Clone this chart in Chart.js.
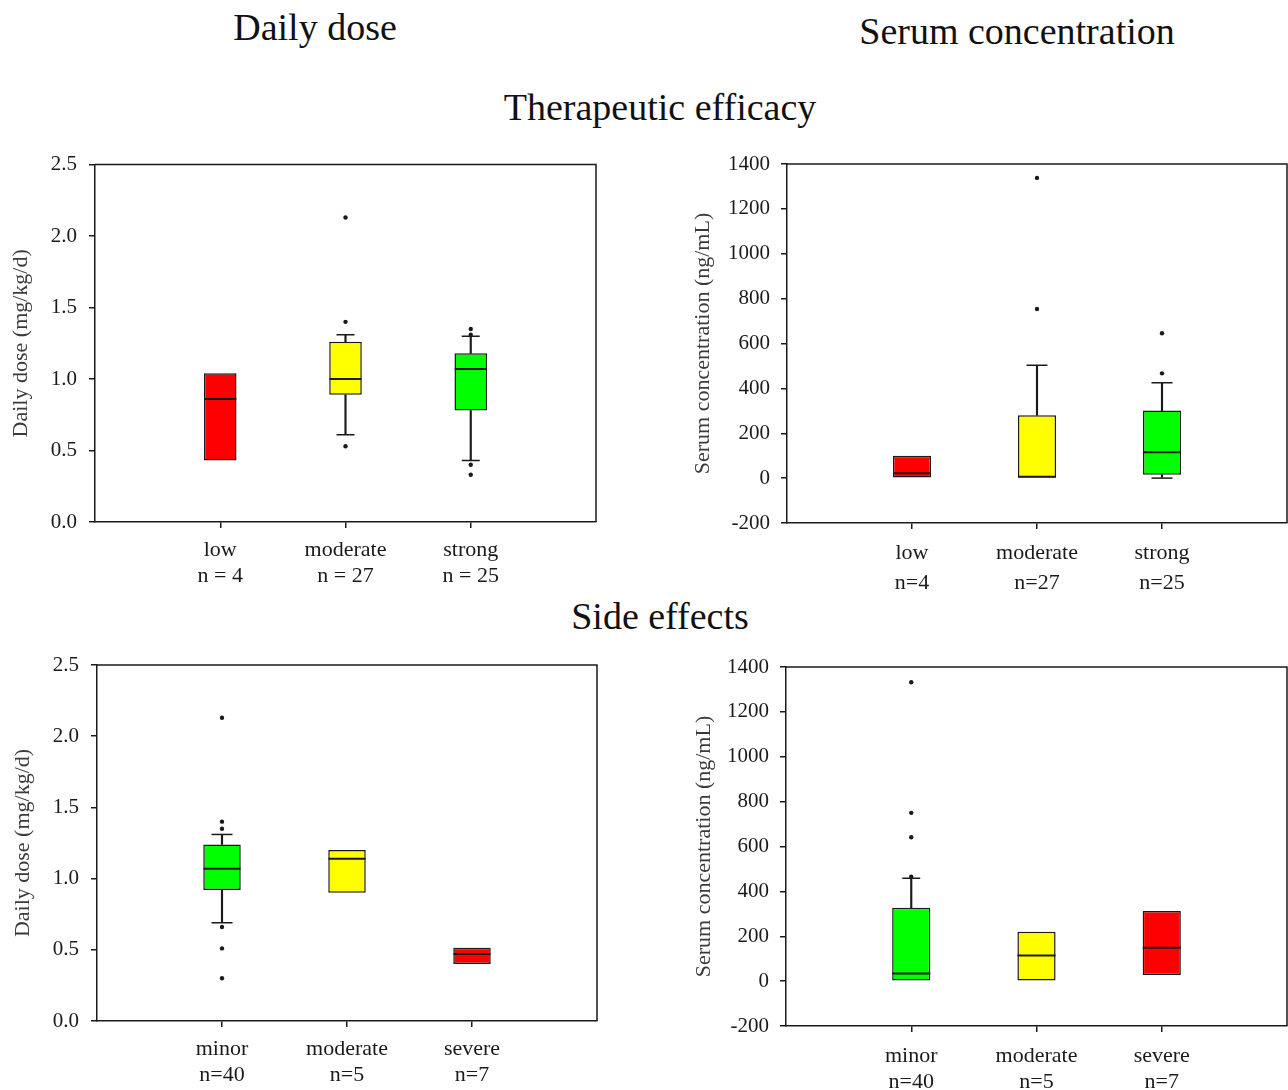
<!DOCTYPE html>
<html lang="en">
<head>
<meta charset="UTF-8">
<title>Daily dose and serum concentration</title>
<script src="https://cdn.jsdelivr.net/npm/chart.js"></script>
<style>
  body { margin: 0; background: #fff; width: 1288px; height: 1090px; position: relative; overflow: hidden;
         font-family: 'Liberation Serif', 'Times New Roman', serif; }
  .titulo { position: absolute; transform: translate(-50%, -50%); font-size: 38px; line-height: 1;
            white-space: nowrap; color: #111; }
  canvas { position: absolute; }
</style>
</head>
<body>
  <div class="titulo" style="left:315px; top:27px">Daily dose</div>
  <div class="titulo" style="left:1017px; top:31px">Serum concentration</div>
  <div class="titulo" style="left:660px; top:107px">Therapeutic efficacy</div>
  <div class="titulo" style="left:660px; top:616px">Side effects</div>

  <canvas id="doseEfficacy" width="610" height="452" style="left:0; top:140px"></canvas>
  <canvas id="serumEfficacy" width="608" height="453" style="left:680px; top:140px"></canvas>
  <canvas id="doseSide" width="610" height="450" style="left:0; top:640px"></canvas>
  <canvas id="serumSide" width="608" height="450" style="left:680px; top:640px"></canvas>

<script>
// groups
const efficacyGroups = ['low', 'moderate', 'strong'];
const efficacyN = [4, 27, 25];
const sideGroups = ['minor', 'moderate', 'severe'];
const sideN = [40, 5, 7];

// daily dose (mg/kg/d) by therapeutic efficacy
const doseEffQ1 = [0.43, 0.89, 0.78];
const doseEffMed = [0.86, 1.00, 1.07];
const doseEffQ3 = [1.04, 1.26, 1.18];
const doseEffLo = [null, 0.61, 0.43];
const doseEffHi = [null, 1.31, 1.30];
const doseEffOut = [[], [2.13, 1.40, 0.53], [1.35, 1.31, 0.40, 0.33]];

// serum concentration (ng/mL) by therapeutic efficacy
const serumEffQ1 = [3, 3, 15];
const serumEffMed = [22, 6, 115];
const serumEffQ3 = [100, 280, 301];
const serumEffLo = [null, null, 0];
const serumEffHi = [null, 503, 425];
const serumEffOut = [[], [1338, 754], [646, 467]];

// daily dose by side effects
const doseSideQ1 = [0.92, 0.90, 0.40];
const doseSideMed = [1.07, 1.14, 0.47];
const doseSideQ3 = [1.24, 1.20, 0.515];
const doseSideLo = [0.69, null, null];
const doseSideHi = [1.31, null, null];
const doseSideOut = [[2.13, 1.40, 1.35, 0.66, 0.51, 0.30], [], []];

// serum concentration by side effects
const serumSideQ1 = [0, 0, 27];
const serumSideMed = [34, 114, 149];
const serumSideQ3 = [327, 220, 312];
const serumSideLo = [null, null, null];
const serumSideHi = [458, null, null];
const serumSideOut = [[1332, 750, 641, 465], [], []];

const doseTicks = [0, 0.5, 1.0, 1.5, 2.0, 2.5];
const serumTicks = [-200, 0, 200, 400, 600, 800, 1000, 1200, 1400];

const RED = '#ff0000', YELLOW = '#ffff00', GREEN = '#00ff00';
const INK = '#1a1a1a';
const FONT = "'Liberation Serif', 'Times New Roman', serif";

// top and right sides of the frame
const frame = {
  id: 'frame',
  afterDatasetsDraw(chart) {
    const { ctx, chartArea: a } = chart;
    ctx.save();
    ctx.strokeStyle = INK;
    ctx.lineWidth = 1.5;
    ctx.beginPath();
    ctx.moveTo(a.left, a.top);
    ctx.lineTo(a.right, a.top);
    ctx.lineTo(a.right, a.bottom);
    ctx.stroke();
    ctx.restore();
  }
};

function boxChart(id, p) {
  const labels = ['', ...p.groups, ''];
  const pad = arr => [null, ...arr, null];
  const caps = [];
  p.groups.forEach((g, i) => {
    if (p.hi[i] != null) caps.push({ x: g, y: p.hi[i] });
    if (p.lo[i] != null) caps.push({ x: g, y: p.lo[i] });
  });
  const outliers = [];
  p.out.forEach((vals, i) => vals.forEach(v => outliers.push({ x: p.groups[i], y: v })));

  const whisker = {
    type: 'bar', grouped: false, order: 4, barThickness: 1.5,
    backgroundColor: INK, borderWidth: 0
  };

  new Chart(document.getElementById(id), {
    type: 'bar',
    data: {
      labels: labels,
      datasets: [
        Object.assign({}, whisker, { data: pad(p.q3.map((v, i) => p.hi[i] == null ? null : [v, p.hi[i]])) }),
        Object.assign({}, whisker, { data: pad(p.q1.map((v, i) => p.lo[i] == null ? null : [p.lo[i], v])) }),
        {
          type: 'bar', grouped: false, order: 3,
          data: pad(p.q1.map((v, i) => [v, p.q3[i]])),
          backgroundColor: pad(p.colors),
          borderColor: INK, borderWidth: 1.5, borderSkipped: false,
          barPercentage: p.boxPct, categoryPercentage: 1
        },
        {
          type: 'line', order: 1, showLine: false, data: pad(p.med),
          pointStyle: 'line', pointRadius: p.boxHalf, pointBorderWidth: 2, pointBorderColor: INK
        },
        {
          type: 'line', order: 1, showLine: false, data: caps,
          pointStyle: 'line', pointRadius: p.capHalf, pointBorderWidth: 1.5, pointBorderColor: INK
        },
        {
          type: 'line', order: 0, showLine: false, data: outliers,
          pointStyle: 'circle', pointRadius: 2.2, pointBorderWidth: 0, pointBackgroundColor: INK
        }
      ]
    },
    options: {
      responsive: false,
      animation: false,
      events: [],
      layout: { autoPadding: false, padding: { left: 0, top: p.top, right: p.right, bottom: 0 } },
      plugins: { legend: { display: false }, tooltip: { enabled: false } },
      scales: {
        x: {
          type: 'category',
          offset: false,
          grid: {
            offset: false, drawOnChartArea: false, drawTicks: true, tickLength: 6, lineWidth: 1.5,
            color: c => (c.index === 0 || c.index === labels.length - 1) ? 'rgba(0,0,0,0)' : INK
          },
          border: { display: true, color: INK, width: 1.5 },
          ticks: {
            autoSkip: false, maxRotation: 0, padding: p.xPad, color: INK,
            font: { family: FONT, size: 22, lineHeight: p.xLine },
            callback: (v, i) => (i >= 1 && i <= p.groups.length) ? [p.groups[i - 1], p.nText(p.n[i - 1])] : ''
          },
          afterFit: s => { s.height = p.xHeight; s.paddingLeft = 0; s.paddingRight = 0; }
        },
        y: {
          min: p.ticks[0],
          max: p.ticks[p.ticks.length - 1],
          afterBuildTicks: s => { s.ticks = p.ticks.map(v => ({ value: v })); },
          grid: { drawOnChartArea: false, tickLength: 6, lineWidth: 1.5, color: INK },
          border: { display: true, color: INK, width: 1.5 },
          ticks: {
            padding: p.yPad, color: INK,
            font: { family: FONT, size: 21 },
            callback: v => p.decimals ? v.toFixed(1) : String(v)
          },
          title: {
            display: true, text: p.yTitle, color: '#3a3a3a',
            font: { family: FONT, size: 22 },
            padding: { top: p.titlePad, bottom: 0 }
          },
          afterFit: s => { s.width = p.yWidth; }
        }
      }
    },
    plugins: [frame]
  });
}

const spaced = n => 'n = ' + n;
const tight = n => 'n=' + n;

boxChart('doseEfficacy', {
  groups: efficacyGroups, n: efficacyN, nText: spaced, colors: [RED, YELLOW, GREEN],
  q1: doseEffQ1, med: doseEffMed, q3: doseEffQ3, lo: doseEffLo, hi: doseEffHi, out: doseEffOut,
  ticks: doseTicks, decimals: true, yTitle: 'Daily dose (mg/kg/d)',
  top: 22, right: 14, yWidth: 95, xHeight: 70, xPad: 9, xLine: 1.18, yPad: 12, titlePad: 8,
  boxPct: 0.26, boxHalf: 16, capHalf: 9
});

boxChart('serumEfficacy', {
  groups: efficacyGroups, n: efficacyN, nText: tight, colors: [RED, YELLOW, GREEN],
  q1: serumEffQ1, med: serumEffMed, q3: serumEffQ3, lo: serumEffLo, hi: serumEffHi, out: serumEffOut,
  ticks: serumTicks, decimals: false, yTitle: 'Serum concentration (ng/mL)',
  top: 24, right: 1, yWidth: 107, xHeight: 70, xPad: 9, xLine: 1.36, yPad: 11, titlePad: 10,
  boxPct: 0.305, boxHalf: 19, capHalf: 10.5
});

boxChart('doseSide', {
  groups: sideGroups, n: sideN, nText: tight, colors: [GREEN, YELLOW, RED],
  q1: doseSideQ1, med: doseSideMed, q3: doseSideQ3, lo: doseSideLo, hi: doseSideHi, out: doseSideOut,
  ticks: doseTicks, decimals: true, yTitle: 'Daily dose (mg/kg/d)',
  top: 25, right: 13, yWidth: 97, xHeight: 69, xPad: 9, xLine: 1.2, yPad: 12, titlePad: 10,
  boxPct: 0.3, boxHalf: 18.5, capHalf: 10.5
});

boxChart('serumSide', {
  groups: sideGroups, n: sideN, nText: tight, colors: [GREEN, YELLOW, RED],
  q1: serumSideQ1, med: serumSideMed, q3: serumSideQ3, lo: serumSideLo, hi: serumSideHi, out: serumSideOut,
  ticks: serumTicks, decimals: false, yTitle: 'Serum concentration (ng/mL)',
  top: 27, right: 1, yWidth: 106, xHeight: 64, xPad: 11, xLine: 1.18, yPad: 11, titlePad: 11,
  boxPct: 0.305, boxHalf: 19, capHalf: 9
});
</script>
</body>
</html>
